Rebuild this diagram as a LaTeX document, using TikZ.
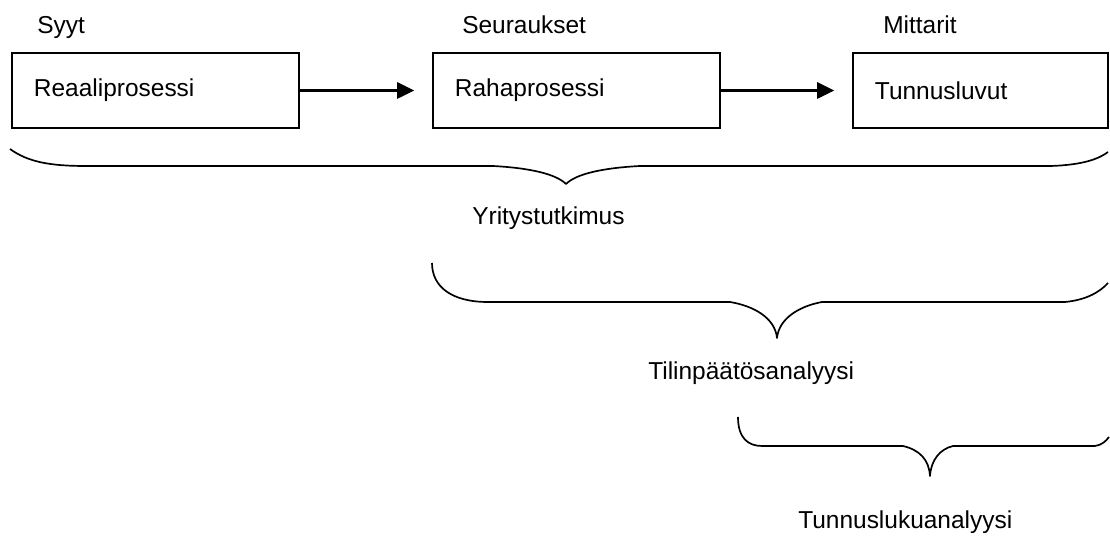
\documentclass[tikz,border=0pt]{standalone}
\usepackage{fontspec}
\setmainfont{Liberation Sans}
\usepackage{tikz}
\usetikzlibrary{positioning,arrows.meta}

\begin{document}
\begin{tikzpicture}[
    x=0.025cm, y=-0.025cm,
    font=\fontsize{17.4}{20}\selectfont,
    box/.style={draw, line width=0.9pt, align=left, minimum height=1.875cm,
                inner xsep=0.55cm, inner ysep=0pt},
    lbl/.style={anchor=base west, inner sep=0pt},
    flow/.style={-{Triangle[length=0.43cm, width=0.4cm]}, line width=2.1pt},
    brace/.style={line width=1.2pt, line join=round},
  ]
  \useasboundingbox (0,0) rectangle (1110,536);

  % ---------- top row: causes -> consequences -> measures ----------
  \node[lbl] (syyt) at (37,34) {Syyt};
  \node[lbl] (seur) at (462,34) {Seuraukset};
  \node[lbl] (mitt) at (883,34) {Mittarit};

  \node[box, text width=6.075cm] (reaali) at (155.5,90.5) {Reaaliprosessi};
  \node[box, text width=6.075cm] (raha) at (576.5,90.5) {Rahaprosessi};
  \node[box, text width=5.275cm] (tunnus) at (980.5,90.5) {Tunnusluvut};

  \draw[flow, shorten >=0.45cm] (reaali) -- (raha);
  \draw[flow, shorten >=0.45cm] (raha) -- (tunnus);

  % ---------- brace 1: whole chain ----------
  \draw[brace] (10,149) .. controls (28,162) and (50,166) .. (86,166) -- (493,166)
    .. controls (530,168) and (556,174) .. (566,184)
    .. controls (576,174) and (602,168) .. (640,166) -- (1050,166)
    .. controls (1085,165) and (1100,158) .. (1108,152);
  \node[lbl] (yritys) at (472,225) {Yritystutkimus};

  % ---------- brace 2: money process + ratios ----------
  \draw[brace] (432,263) .. controls (432,287) and (452,302) .. (488,302) -- (730,302)
    .. controls (754,306) and (775,318) .. (777,338)
    .. controls (779,318) and (800,306) .. (822,302) -- (1065,302)
    .. controls (1086,300) and (1100,292) .. (1108,283);
  \node[lbl] (tilin) at (648,380) {Tilinpäätösanalyysi};

  % ---------- brace 3: ratios only ----------
  \draw[brace] (738,417) .. controls (738,438) and (748,446) .. (762,446) -- (903,446)
    .. controls (920,450) and (929,460) .. (930,476)
    .. controls (931,460) and (940,449) .. (953,446) -- (1095,446)
    .. controls (1102,445) and (1106,441) .. (1109,437);
  \node[lbl] (tunnusanal) at (798,528) {Tunnuslukuanalyysi};

\end{tikzpicture}
\end{document}
